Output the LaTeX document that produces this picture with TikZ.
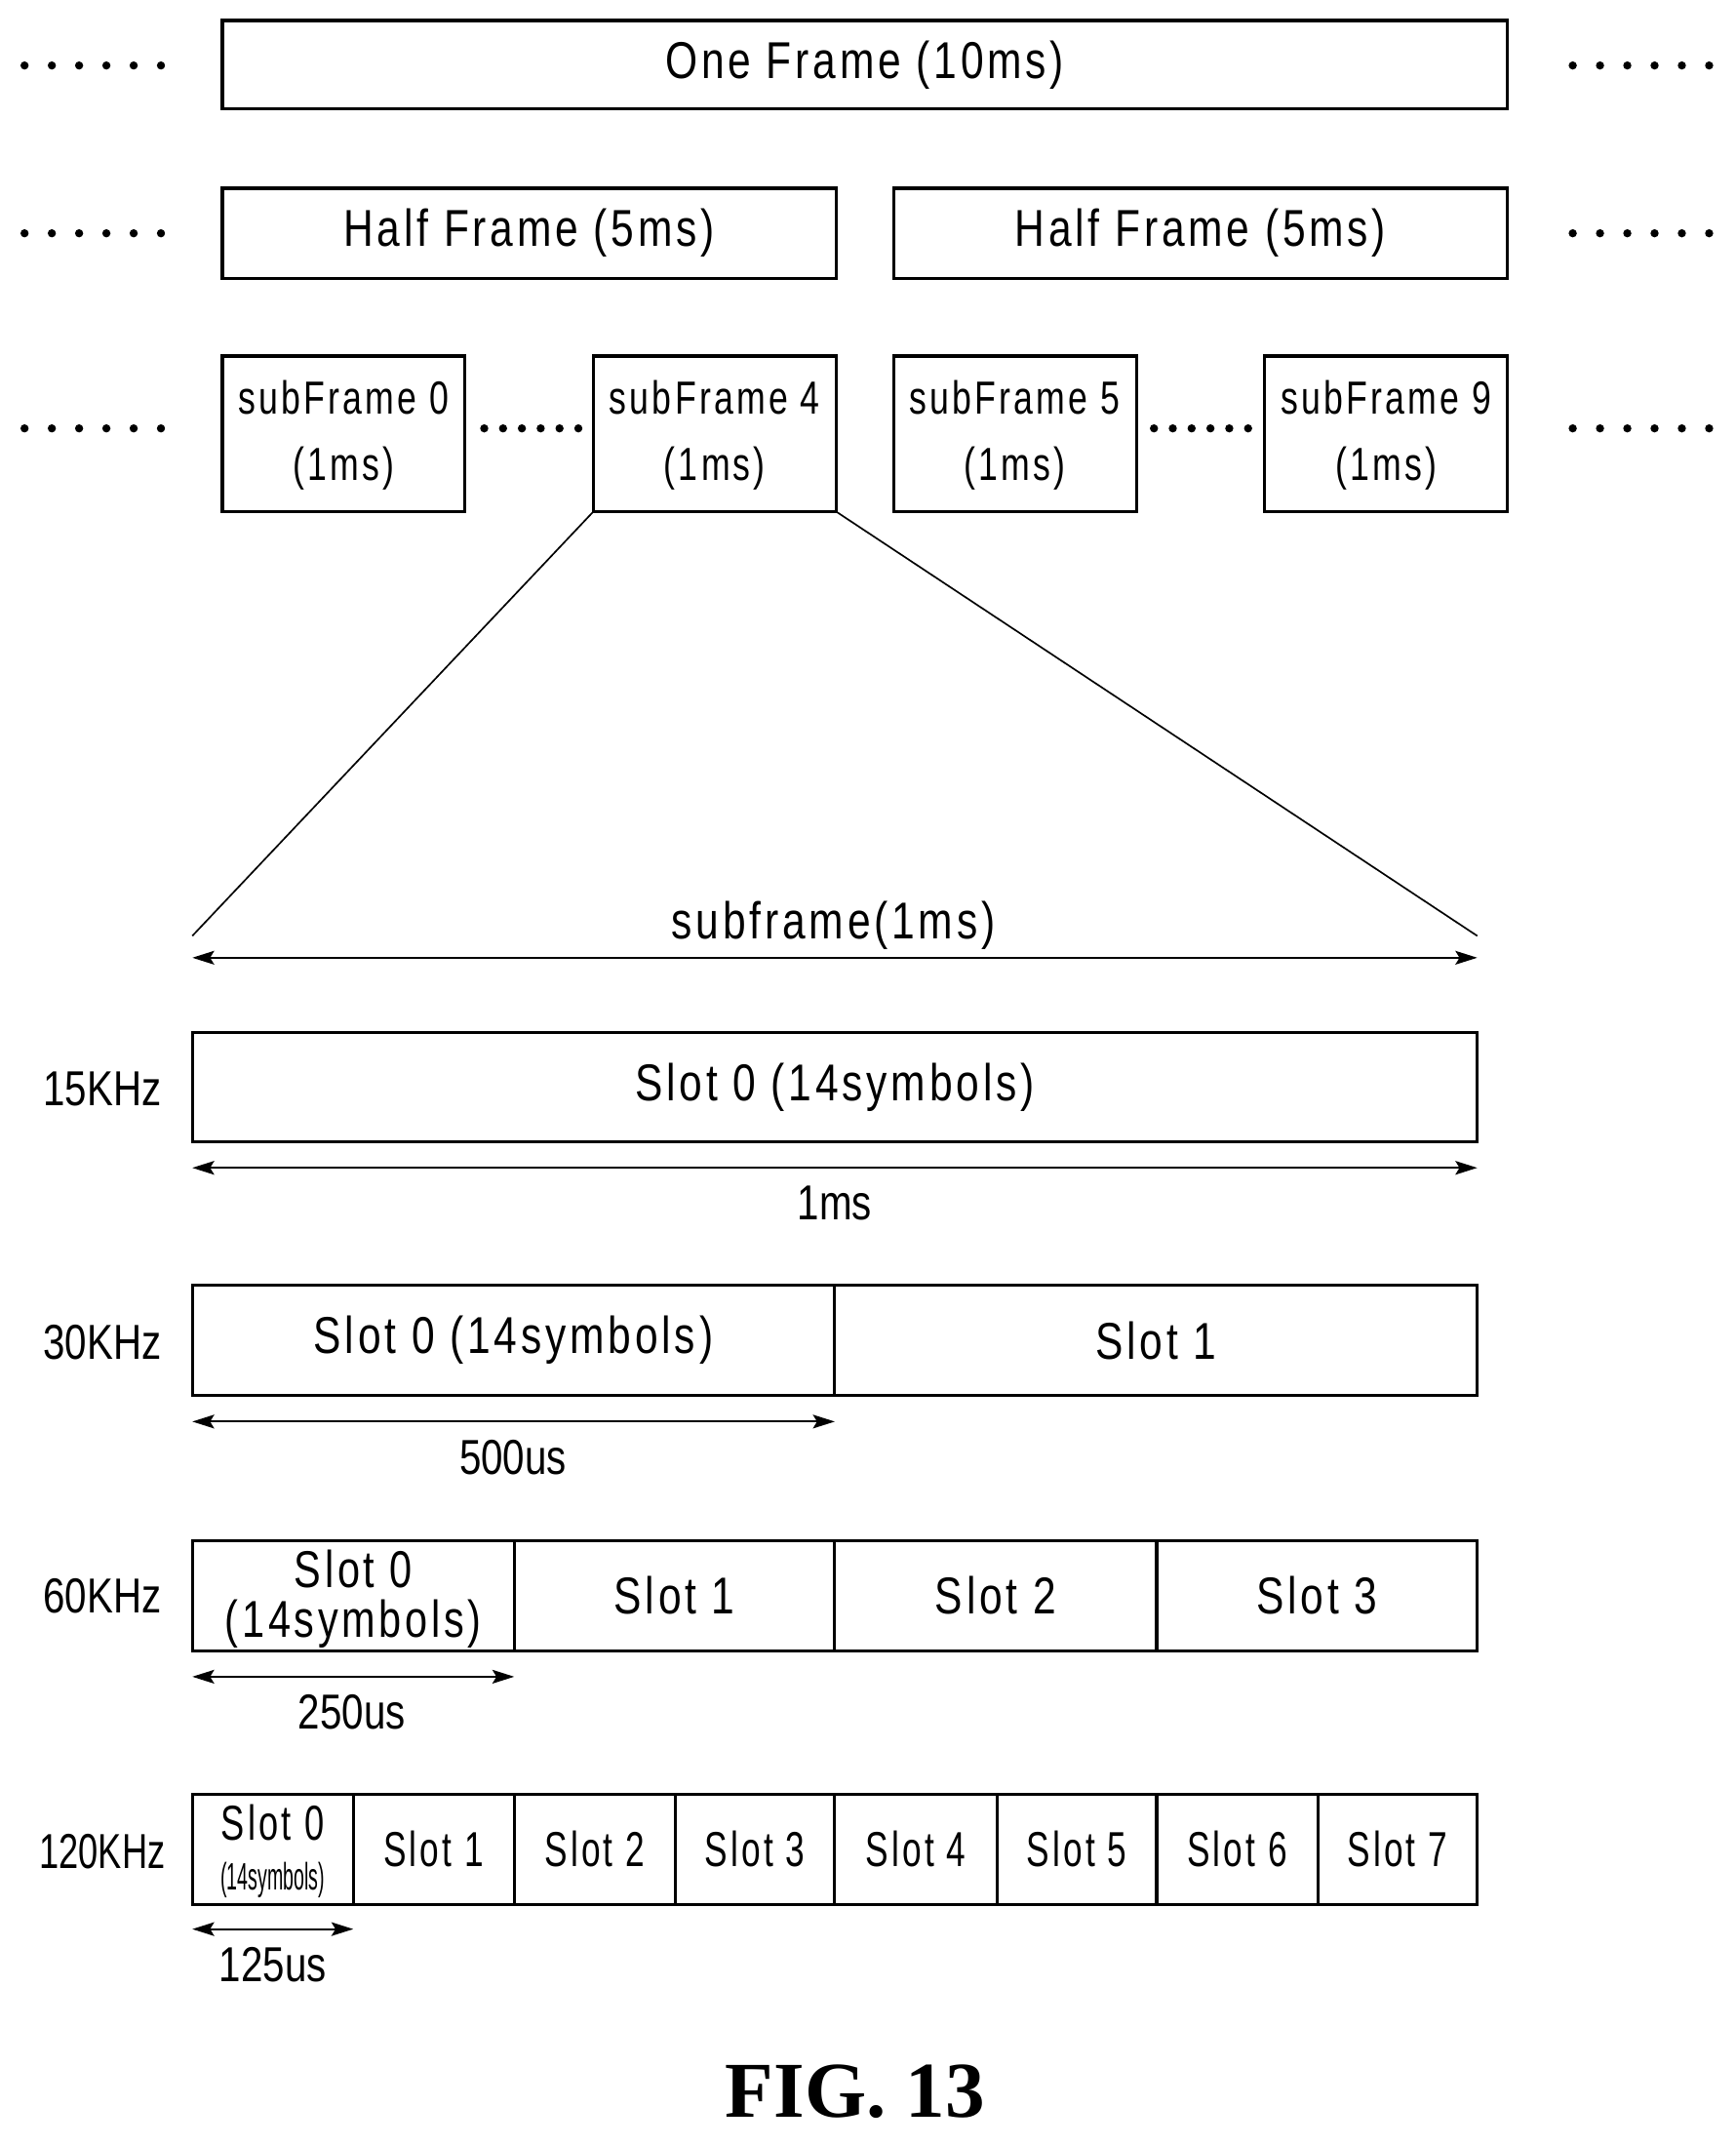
\documentclass[tikz,border=0pt]{standalone}
\usepackage{fontspec}
\setmainfont[LetterSpace=9]{Liberation Sans}
\newfontfamily\plainfont{Liberation Sans}
\newfontfamily\figfont{Liberation Serif}
\usetikzlibrary{arrows.meta}
\begin{document}
\begin{tikzpicture}[x=1pt,y=-1pt,
 box/.style={draw,line width=2.2pt,inner sep=0pt},
 big/.style={font=\fontsize{38}{42}\selectfont},
 mid/.style={font=\fontsize{34}{48}\selectfont},
 lab/.style={font=\plainfont\fontsize{36}{40}\selectfont},
 dim/.style={{Stealth[length=16pt,width=10pt,inset=3pt]}-{Stealth[length=16pt,width=10pt,inset=3pt]},line width=1.6pt}]
\useasboundingbox (0,0) rectangle (1272,1573);
% dots
\foreach \y in {48,171,314}{
 \foreach \i in {0,...,5}{\fill (18+\i*20,\y) circle (3); \fill (1153+\i*20,\y) circle (3);}}
\foreach \i in {0,...,5}{\fill (355+\i*13.8,314) circle (3); \fill (846+\i*13.8,314) circle (3);}
% frames
\draw[box] (163,15) rectangle node[big,xscale=0.8]{One Frame (10ms)} (1105,80);
\draw[box] (163,138) rectangle node[big,xscale=0.8]{Half Frame (5ms)} (613,204);
\draw[box] (655,138) rectangle node[big,xscale=0.8]{Half Frame (5ms)} (1105,204);
\foreach \a/\b/\n in {163/341/0,435/613/4,655/833/5,927/1105/9}{
 \draw[box] (\a,261) rectangle (\b,375);
 \node[mid,xscale=0.75,align=center] at ({(\a+\b)/2},319) {subFrame \n\\(1ms)};}
\coordinate (sL) at (435,375); \coordinate (sR) at (613,375);
\coordinate (eL) at (141,686); \coordinate (eR) at (1083,686);
\draw[line width=1.2pt] (sL) -- (eL); \draw[line width=1.2pt] (sR) -- (eR);
\draw[dim] (141,702) -- (1083,702);
\node[big,xscale=0.8] at (611,678) {subframe(1ms)};
% 15
\node[lab,xscale=0.8] at (75,798) {15KHz};
\draw[box] (141,757) rectangle node[big,xscale=0.8]{Slot 0 (14symbols)} (1083,837);
\draw[dim] (141,856) -- (1083,856);
\node[lab,xscale=0.8] at (612,882) {1ms};
% 30
\node[lab,xscale=0.8] at (75,984) {30KHz};
\draw[box] (141,942) rectangle node[big,xscale=0.8]{Slot 0 (14symbols)} (612,1023);
\draw[box] (612,942) rectangle node[big,xscale=0.8]{Slot 1} (1083,1023);
\draw[dim] (141,1042) -- (612,1042);
\node[lab,xscale=0.8] at (376,1068) {500us};
% 60
\node[lab,xscale=0.8] at (75,1170) {60KHz};
\draw[box] (141,1129) rectangle (377,1210);
\node[big,xscale=0.78] at (259,1150) {Slot 0};
\node[big,xscale=0.78] at (259,1190) {(14symbols)};
\foreach \a/\b/\n in {377/612/1,612/848/2,848/1083/3}
 \draw[box] (\a,1129) rectangle node[big,xscale=0.8]{Slot \n} (\b,1210);
\draw[dim] (141,1229) -- (377,1229);
\node[lab,xscale=0.8] at (258,1255) {250us};
% 120
\node[lab,xscale=0.72] at (75,1357) {120KHz};
\draw[box] (141,1315) rectangle (259,1396);
\node[font=\fontsize{36}{40}\selectfont,xscale=0.72] at (200,1336) {Slot 0};
\node[font=\plainfont\fontsize{28}{30}\selectfont,xscale=0.5] at (200,1378) {(14symbols)};
\foreach \a/\b/\n in {259/377/1,377/495/2,495/612/3,612/731/4,731/848/5,848/966/6,966/1083/7}
 \draw[box] (\a,1315) rectangle node[font=\fontsize{36}{40}\selectfont,xscale=0.7]{Slot \n} (\b,1396);
\draw[dim] (141,1414) -- (259,1414);
\node[lab,xscale=0.8] at (200,1440) {125us};
\node[font=\figfont\bfseries\fontsize{58}{62}\selectfont] at (627,1533) {FIG. 13};
\end{tikzpicture}
\end{document}
